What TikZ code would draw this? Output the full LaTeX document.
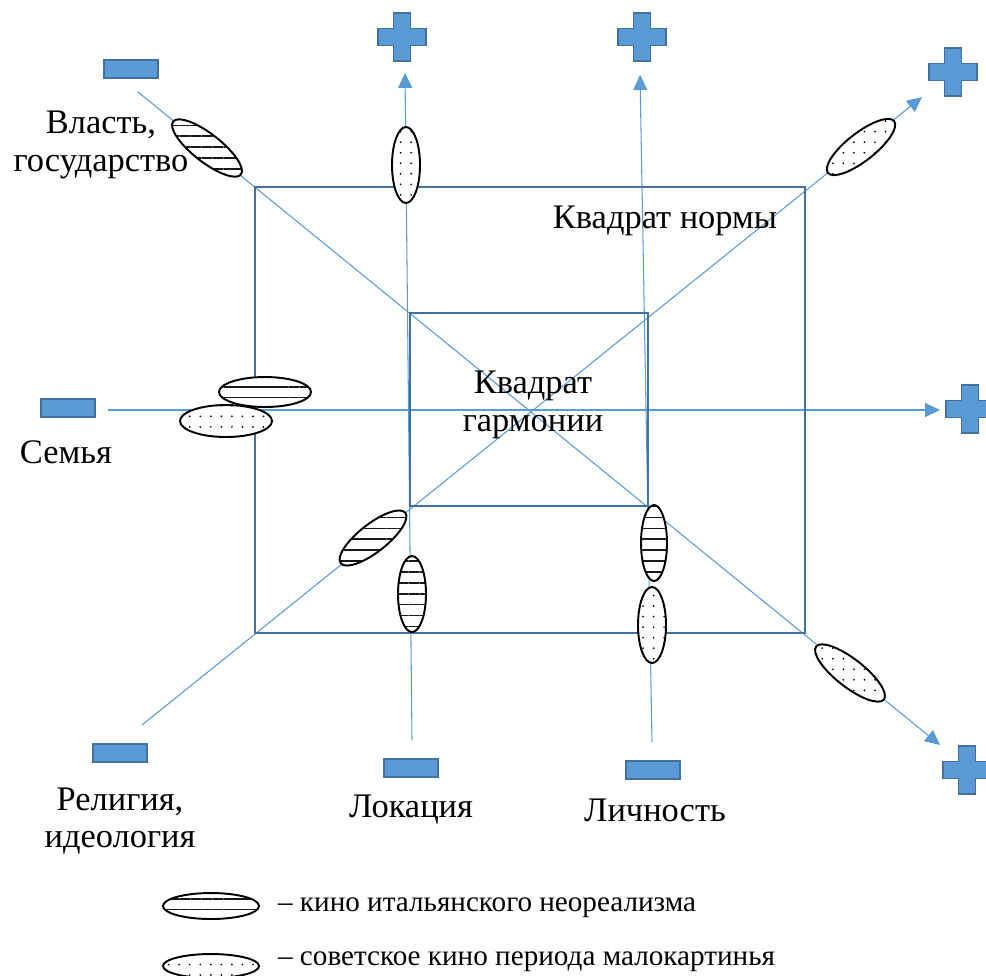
\documentclass[tikz,border=0pt]{standalone}
\usepackage{fontspec}
\setmainfont{Liberation Serif}
\usetikzlibrary{arrows.meta,patterns.meta,positioning}
\definecolor{axisblue}{RGB}{91,155,213}
\definecolor{frameblue}{RGB}{65,113,156}
\tikzset{
  axisline/.style={axisblue,line width=0.6pt},
  toplus/.style={axisline,-{Triangle[length=8.5pt,width=8pt]}},
  frameline/.style={frameblue,line width=1.1pt},
  signbox/.style={draw=frameblue,fill=axisblue,line width=1.1pt,line join=miter},
  hatchell/.style={draw=black,line width=1.1pt,preaction={fill=white},
    pattern={Lines[distance=6.2pt,line width=0.9pt]},pattern color=black!90},
  dotell/.style={draw=black,line width=1.1pt,preaction={fill=white},
    pattern={Dots[distance=6pt,radius=0.55pt]},pattern color=black},
  lbl/.style={font=\fontsize{19.6pt}{21.5pt}\selectfont,align=center,inner sep=1pt},
  leglbl/.style={font=\fontsize{16.6pt}{20pt}\selectfont,inner sep=1pt,anchor=west},
  plussign/.pic={\path[signbox] (-8.5,-24)--(8.5,-24)--(8.5,-8.5)--(24,-8.5)--(24,8.5)--(8.5,8.5)--(8.5,24)
      --(-8.5,24)--(-8.5,8.5)--(-24,8.5)--(-24,-8.5)--(-8.5,-8.5)--cycle;},
  minussign/.pic={\path[signbox] (-27,-9) rectangle (27,9);}
}
\begin{document}
\begin{tikzpicture}[x=0.02cm,y=-0.02cm]
\useasboundingbox (0,0) rectangle (986,975);
% axes
\coordinate (famW) at (108,410); \coordinate (famE) at (940,410);
\coordinate (locS) at (412,740); \coordinate (locN) at (405,73);
\coordinate (perS) at (652,742); \coordinate (perN) at (640,75);
\coordinate (govS) at (138,92); \coordinate (govE) at (940,745);
\coordinate (relS) at (142,725); \coordinate (relE) at (922,97);
\draw[toplus] (famW)--(famE);
\draw[toplus] (locS)--(locN);
\draw[toplus] (perS)--(perN);
\draw[toplus] (govS)--(govE);
\draw[toplus] (relS)--(relE);
% squares
\draw[frameline] (255,187) rectangle (805,633);
\draw[frameline] (410,313) rectangle (648,506);
% signs
\foreach \p in {(402,37),(642,37),(953,72),(970,409),(967,770)}
  \pic at \p {plussign};
\foreach \p in {(131,69),(68,408),(120,753),(411,768),(653,770)}
  \pic at \p {minussign};
% ellipses on the axes
\draw[hatchell,rotate around={-38:(207,148)}] (207,148) ellipse [x radius=43,y radius=14];
\draw[dotell] (406,165) ellipse [x radius=14,y radius=38];
\draw[dotell,rotate around={38:(861,147)}] (861,147) ellipse [x radius=42,y radius=14];
\draw[hatchell] (265,392) ellipse [x radius=46,y radius=15];
\draw[dotell] (226,421) ellipse [x radius=46,y radius=16];
\draw[hatchell,rotate around={38:(373,538)}] (373,538) ellipse [x radius=41,y radius=14];
\draw[hatchell] (412,594) ellipse [x radius=14,y radius=38];
\draw[hatchell] (654,543) ellipse [x radius=13,y radius=38];
\draw[dotell] (652,625) ellipse [x radius=14,y radius=38];
\draw[dotell,rotate around={-38:(850,673)}] (850,673) ellipse [x radius=43,y radius=14];
% labels
\node[lbl] (gov) at (101,145) {Власть,\\государство};
\node[lbl] (fam) at (66,452) {Семья};
\node[lbl] (rel) at (120,821) {Религия,\\идеология};
\node[lbl] (loc) at (411,810) {Локация};
\node[lbl] (per) at (655,810) {Личность};
\node[lbl] (norm) at (665,221) {Квадрат нормы};
\node[lbl] (harm) at (533,405) {Квадрат\\гармонии};
% legend
\draw[hatchell] (211,906) ellipse [x radius=48,y radius=13];
\draw[dotell] (211,966) ellipse [x radius=48,y radius=12];
\node[leglbl] (legit) at (276,908) {– кино итальянского неореализма};
\node[leglbl] (legsov) at (276,962) {– советское кино периода малокартинья};
\end{tikzpicture}
\end{document}
